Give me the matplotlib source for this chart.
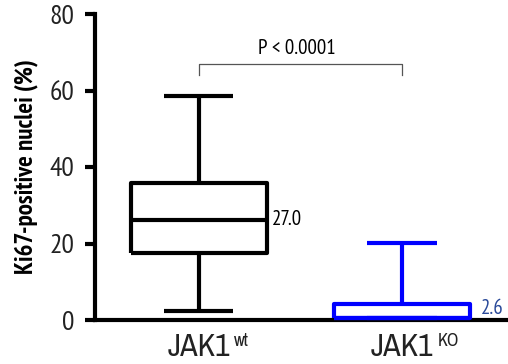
import matplotlib
matplotlib.use("Agg")
import matplotlib.pyplot as plt

FONT = ['PT Sans Narrow', 'DejaVu Sans']
XFONT = ['Archivo Narrow', 'PT Sans Narrow', 'DejaVu Sans']
plt.rcParams['font.family'] = FONT

groups = ["wt", "KO"]
whislo = [2.4, 0.6]
q1 = [17.5, 0.6]
med = [26.2, 0.6]
q3 = [35.9, 4.1]
whishi = [58.6, 20.1]
median_labels = ["27.0", "2.6"]
label_y = [26.4, 2.9]
colors = ["black", "#0000ff"]
label_colors = ["black", "#2a4a9a"]
yticks = [0, 20, 40, 60, 80]
pvalue_text = "P < 0.0001"

fig = plt.figure(figsize=(5.08, 3.64), dpi=100)
ax = fig.add_axes([95/508, 1-320/364, 413/508, (320-14)/364])

positions = [1, 2]
for i in range(2):
    stats = [dict(whislo=whislo[i], q1=q1[i], med=med[i], q3=q3[i], whishi=whishi[i], fliers=[])]
    c = colors[i]
    ax.bxp(stats, positions=[positions[i]], widths=0.67, showfliers=False,
           boxprops=dict(color=c, linewidth=3),
           whiskerprops=dict(color=c, linewidth=3),
           capprops=dict(color=c, linewidth=3),
           medianprops=dict(color=c, linewidth=3),
           capwidths=0.34, manage_ticks=False, zorder=5)
for artist in ax.lines:
    artist.set_clip_on(False)
    artist.set_solid_capstyle('butt')

ax.text(positions[0] + 0.36, label_y[0], median_labels[0], fontsize=15, color=label_colors[0],
        va='center', ha='left')
ax.text(positions[1] + 0.39, label_y[1], median_labels[1], fontsize=15, color=label_colors[1],
        va='center', ha='left')

# bracket
ax.plot([1, 1, 2, 2], [64.0, 67.0, 67.0, 64.0], color='#555555', linewidth=0.9, clip_on=False)
ax.text(1.48, 68.5, pvalue_text, ha='center', va='bottom', fontsize=15)

ax.set_xlim(0.488, 2.522)
ax.set_ylim(0, 80)
ax.set_yticks(yticks)
ax.tick_params(axis='y', labelsize=20, width=3, length=7, pad=8, labelcolor='#222222')
ax.set_xticks([])
for i, g in enumerate(groups):
    t = ax.annotate("JAK1", xy=(positions[i], 0), xycoords='data', xytext=(0, -9),
                    textcoords='offset points', ha='center', va='top', fontsize=23,
                    family=XFONT, color='#222222')
    ax.annotate(g, xy=(1, 1), xycoords=t, xytext=(3, 0), textcoords='offset points',
                ha='left', va='top', fontsize=13, family=XFONT, color='#222222')
for s in ['top', 'right']:
    ax.spines[s].set_visible(False)
for s in ['left', 'bottom']:
    ax.spines[s].set_linewidth(3)
ax.set_ylabel("Ki67-positive nuclei (%)", fontsize=18, fontweight='bold', labelpad=8)

fig.savefig("out.png", dpi=100)
